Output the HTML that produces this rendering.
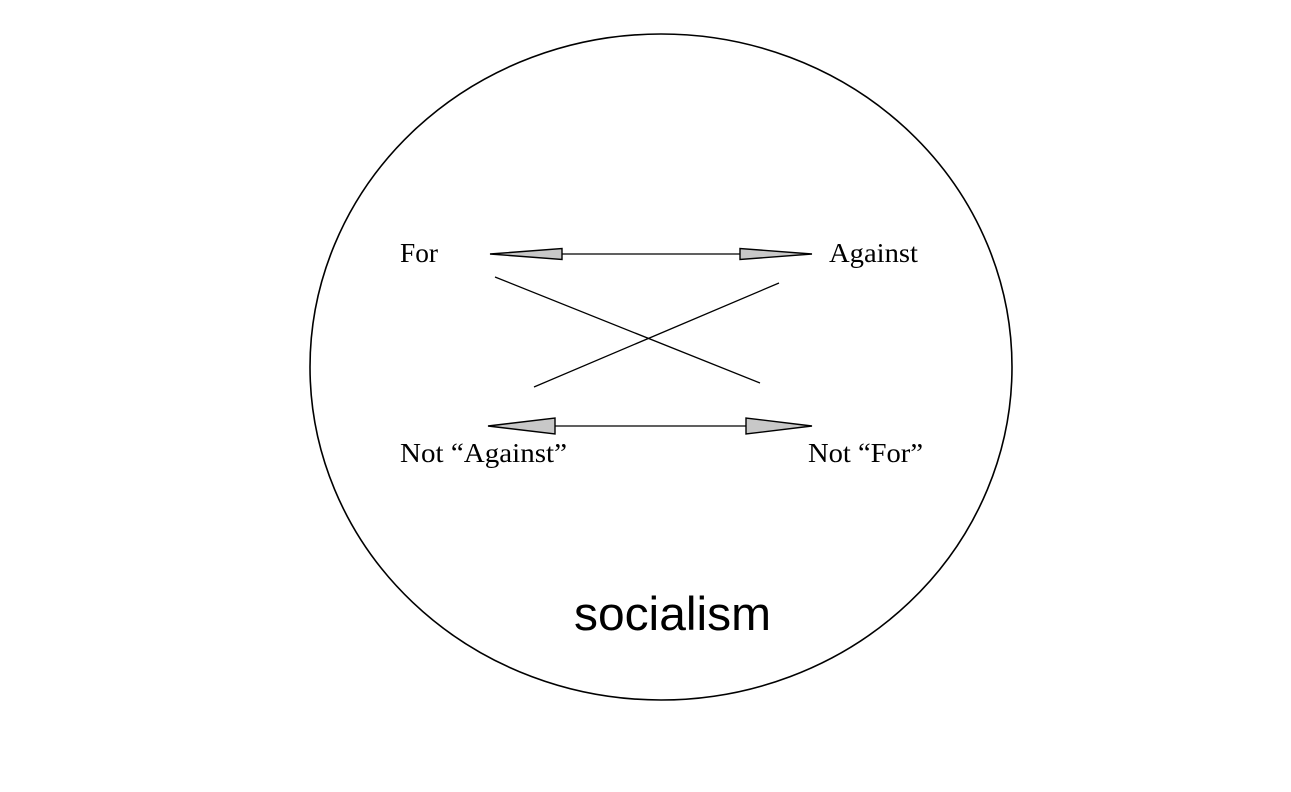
<!DOCTYPE html>
<html><head><meta charset="utf-8"><style>
html,body{margin:0;padding:0;background:#fff;}
svg{display:block;}
</style></head><body>
<svg width="1291" height="792" viewBox="0 0 1291 792" xmlns="http://www.w3.org/2000/svg">
<ellipse cx="661" cy="367" rx="351" ry="333" fill="none" stroke="#000" stroke-width="1.6"/>
<line x1="560" y1="254" x2="742" y2="254" stroke="#000" stroke-width="1.2"/>
<polygon points="490,254 562,248.5 562,259.5" fill="#c8c8c8" stroke="#000" stroke-width="1.4"/>
<polygon points="812,254 740,248.5 740,259.5" fill="#c8c8c8" stroke="#000" stroke-width="1.4"/>
<line x1="553" y1="426" x2="748" y2="426" stroke="#000" stroke-width="1.2"/>
<polygon points="488,426 555,418 555,434" fill="#c8c8c8" stroke="#000" stroke-width="1.4"/>
<polygon points="812,426 746,418 746,434" fill="#c8c8c8" stroke="#000" stroke-width="1.4"/>
<line x1="495" y1="277" x2="760" y2="383" stroke="#000" stroke-width="1.3"/>
<line x1="779" y1="283" x2="534" y2="387" stroke="#000" stroke-width="1.3"/>
<g font-family="Liberation Serif, serif" font-size="27" fill="#000">
<text x="400" y="262" textLength="38" lengthAdjust="spacingAndGlyphs">For</text>
<text x="829" y="262" textLength="89" lengthAdjust="spacingAndGlyphs">Against</text>
<text x="400" y="462" textLength="167" lengthAdjust="spacingAndGlyphs">Not “Against”</text>
<text x="808" y="462" textLength="115" lengthAdjust="spacingAndGlyphs">Not “For”</text>
</g>
<text x="574" y="630" font-family="Liberation Sans, sans-serif" font-size="47" textLength="197" lengthAdjust="spacingAndGlyphs" fill="#000">socialism</text>
</svg>
</body></html>
